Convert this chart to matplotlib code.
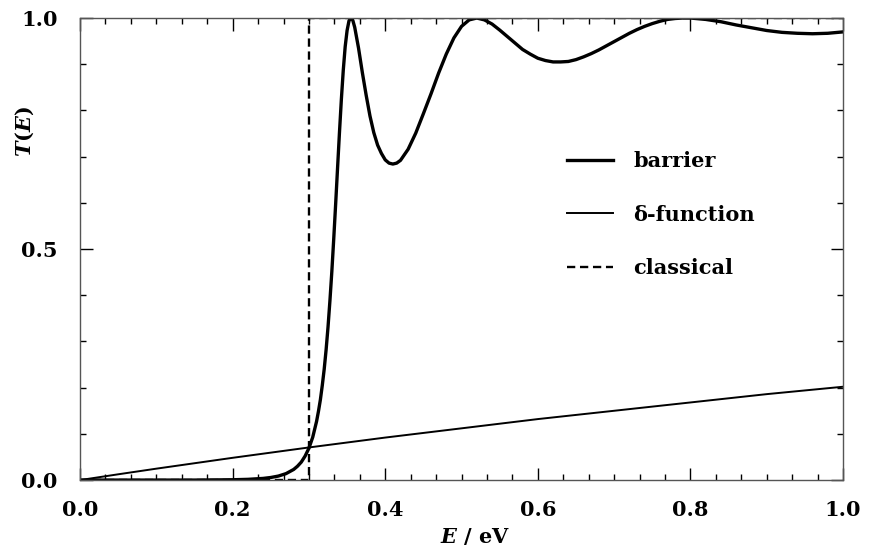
import numpy as np
import matplotlib
matplotlib.use("Agg")
import matplotlib.pyplot as plt
from matplotlib.ticker import MultipleLocator

# energies (eV) and transmission
E_barrier = [0.0, 0.05, 0.10, 0.15, 0.20, 0.22, 0.24, 0.25, 0.26, 0.27, 0.28, 0.285,
             0.29, 0.295, 0.30, 0.305, 0.31, 0.3125, 0.315, 0.3175, 0.32, 0.3225,
             0.325, 0.3275, 0.33, 0.3325, 0.335, 0.3375, 0.34, 0.3425, 0.345, 0.3475,
             0.35, 0.3525, 0.355, 0.3575, 0.36, 0.365, 0.37, 0.375, 0.38, 0.385,
             0.39, 0.395, 0.40, 0.405, 0.41, 0.415, 0.42, 0.43, 0.44, 0.45, 0.46,
             0.47, 0.48, 0.49, 0.50, 0.51, 0.52, 0.53, 0.54, 0.55, 0.56, 0.57, 0.58,
             0.59, 0.60, 0.61, 0.62, 0.63, 0.64, 0.65, 0.66, 0.67, 0.68, 0.69, 0.70,
             0.71, 0.72, 0.73, 0.74, 0.75, 0.76, 0.77, 0.78, 0.79, 0.80, 0.82, 0.84,
             0.86, 0.88, 0.90, 0.92, 0.94, 0.96, 0.98, 1.00]
T_barrier = [0.0, 0.0, 0.0, 0.0, 0.0007, 0.0016, 0.0036, 0.0056, 0.0087, 0.014, 0.023, 0.030,
             0.039, 0.052, 0.069, 0.093, 0.127, 0.149, 0.174, 0.205, 0.240, 0.282,
             0.331, 0.388, 0.451, 0.522, 0.597, 0.675, 0.752, 0.824, 0.887, 0.938,
             0.973, 0.994, 1.0, 0.995, 0.980, 0.935, 0.882, 0.833, 0.788, 0.752,
             0.725, 0.707, 0.693, 0.686, 0.684, 0.686, 0.692, 0.716, 0.751, 0.793, 0.836,
             0.881, 0.922, 0.957, 0.982, 0.996, 1.0, 0.996, 0.987, 0.974, 0.960, 0.946, 0.932,
             0.922, 0.913, 0.908, 0.905, 0.905, 0.906, 0.910, 0.916, 0.923, 0.931, 0.940, 0.949,
             0.958, 0.967, 0.975, 0.982, 0.988, 0.993, 0.997, 0.999, 1.0, 1.0, 0.997, 0.992,
             0.985, 0.979, 0.973, 0.969, 0.967, 0.966, 0.967, 0.970]

E_delta = [0.0, 0.05, 0.1, 0.2, 0.3, 0.4, 0.5, 0.6, 0.7, 0.8, 0.9, 1.0]
T_delta = [0.0, 0.0125, 0.0247, 0.0482, 0.0706, 0.092, 0.112, 0.132, 0.150, 0.168, 0.186, 0.202]

E_classical = [0.0, 0.3, 0.3, 1.0]
T_classical = [0.0, 0.0, 1.0, 1.0]

plt.rcParams['font.family'] = 'DejaVu Serif'
plt.rcParams['font.weight'] = 'bold'
plt.rcParams['mathtext.fontset'] = 'dejavuserif'

fig = plt.figure(figsize=(8.7, 5.55), dpi=100)
ax = fig.add_axes([0.092, 0.135, 0.877, 0.8325])

ax.plot(E_barrier, T_barrier, color='black', lw=2.4, label='barrier')
ax.plot(E_delta, T_delta, color='black', lw=1.4, label='δ-function')
ax.plot(E_classical, T_classical, color='black', lw=1.7, ls=(0, (3.5, 2)), label='classical')

ax.set_xlim(0, 1)
ax.set_ylim(0, 1)
ax.xaxis.set_major_locator(MultipleLocator(0.2))
ax.xaxis.set_minor_locator(MultipleLocator(1 / 30))
ax.yaxis.set_major_locator(MultipleLocator(0.5))
ax.yaxis.set_minor_locator(MultipleLocator(0.1))
ax.tick_params(which='both', direction='in', top=True, right=True, labelsize=15)
ax.tick_params(which='major', length=9, width=1)
ax.tick_params(which='minor', length=4, width=1)
ax.tick_params(axis='x', pad=14)
ax.tick_params(axis='y', pad=16)
ax.xaxis.set_major_formatter(plt.FuncFormatter(lambda v, p: f"{v:.1f}"))
ax.yaxis.set_major_formatter(plt.FuncFormatter(lambda v, p: f"{v:.1f}"))
for s in ax.spines.values():
    s.set_linewidth(1.0)
    s.set_color('#555555')

ax.set_xlabel(r'$\it{E}$ / eV', fontsize=15, fontweight='bold')
ax.xaxis.set_label_coords(0.518, -0.10)
ax.set_ylabel(r'$\it{T}$($\it{E}$)', fontsize=15, fontweight='bold')
ax.yaxis.set_label_coords(-0.058, 0.755)

ax.legend(loc='upper left', bbox_to_anchor=(0.625, 0.734), frameon=False, fontsize=15,
          handlelength=2.2, handletextpad=0.96, labelspacing=1.6, borderpad=0)

fig.savefig('out.png', dpi=100)
